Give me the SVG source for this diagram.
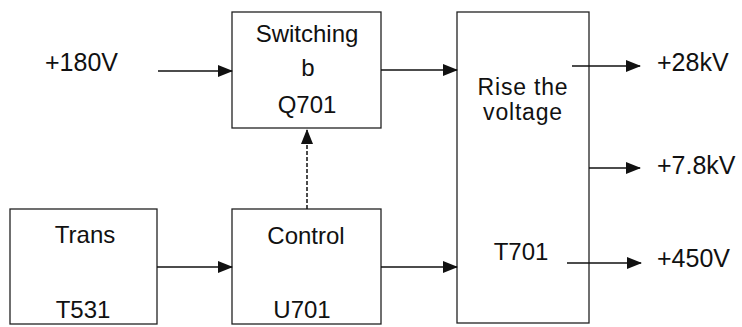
<svg xmlns="http://www.w3.org/2000/svg" width="742" height="327" viewBox="0 0 742 327">
<defs>
<marker id="ah" markerWidth="15" markerHeight="12" refX="14" refY="6" orient="auto" markerUnits="userSpaceOnUse">
<path d="M0,0 L15,6 L0,12 Z" fill="#111"/>
</marker>
<style>
.box{fill:#fff;stroke:#222;stroke-width:1.3}
.t{font-family:"Liberation Sans",Arial,sans-serif;font-size:24px;fill:#111;text-anchor:middle}
.r{font-size:23px;letter-spacing:0.8px}
.l{font-family:"Liberation Sans",Arial,sans-serif;font-size:25px;fill:#111}
.c{fill:none;stroke:#111;stroke-width:1.5}
.d{stroke-dasharray:4 2}
</style>
</defs>
<rect width="742" height="327" fill="#fff"/>
<g id="switching">
<rect class="box" x="232" y="12" width="149" height="116"/>
<text class="t" x="307" y="42">Switching</text>
<text class="t" x="308" y="76">b</text>
<text class="t" x="307" y="113">Q701</text>
</g>
<g id="rise">
<rect class="box" x="457" y="12" width="132" height="311"/>
<text class="t r" x="523" y="95">Rise the</text>
<text class="t r" x="523" y="120">voltage</text>
<text class="t" x="521" y="260">T701</text>
</g>
<g id="trans">
<rect class="box" x="10" y="209" width="147" height="115"/>
<text class="t" x="85" y="243">Trans</text>
<text class="t" x="83" y="318">T531</text>
</g>
<g id="control">
<rect class="box" x="232" y="209" width="149" height="115"/>
<text class="t" x="306" y="244">Control</text>
<text class="t" x="302" y="318">U701</text>
</g>
<g id="labels">
<text class="l" x="45" y="71">+180V</text>
<text class="l" x="657" y="71">+28kV</text>
<text class="l" x="657" y="174">+7.8kV</text>
<text class="l" x="657" y="267">+450V</text>
</g>
<g id="connectors">
<line class="c" x1="158" y1="71" x2="232" y2="71" marker-end="url(#ah)"/>
<line class="c" x1="381" y1="70" x2="457" y2="70" marker-end="url(#ah)"/>
<line class="c d" x1="307" y1="209" x2="307" y2="130" marker-end="url(#ah)"/>
<line class="c" x1="157" y1="267" x2="232" y2="267" marker-end="url(#ah)"/>
<line class="c" x1="381" y1="267" x2="457" y2="267" marker-end="url(#ah)"/>
<line class="c" x1="572" y1="66" x2="640" y2="66" marker-end="url(#ah)"/>
<line class="c" x1="589" y1="168" x2="640" y2="168" marker-end="url(#ah)"/>
<line class="c" x1="567" y1="263" x2="641" y2="263" marker-end="url(#ah)"/>
</g>
</svg>
